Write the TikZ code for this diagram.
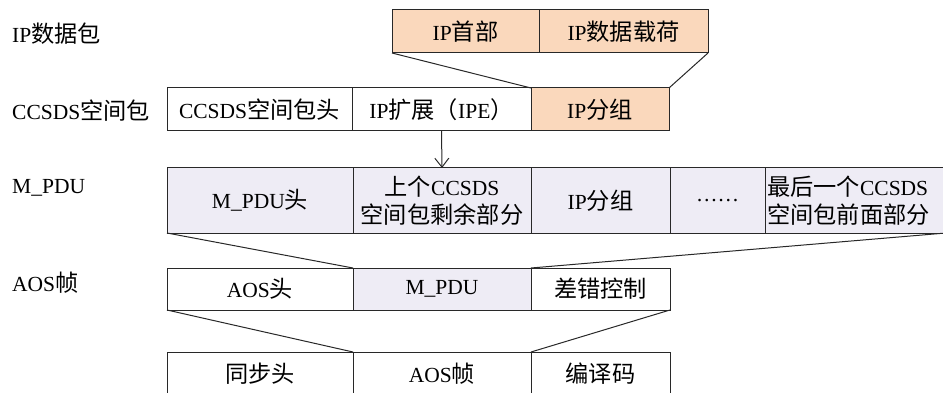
\documentclass[tikz,border=0pt]{standalone}
\usepackage{fontspec}
\setmainfont{Liberation Serif}
\newfontfamily\cjk{Noto Sans CJK SC}[Scale=1.08]
\newcommand\zh[1]{{\cjk #1}}
\usetikzlibrary{arrows.meta}
\definecolor{peach}{RGB}{250,216,188}
\definecolor{lav}{RGB}{238,236,245}
\definecolor{ln}{RGB}{40,40,40}
\begin{document}
\begin{tikzpicture}[x=1pt,y=-1pt,
  font=\fontsize{21.5}{28}\selectfont,
  cell/.style={draw=ln, line width=1pt, anchor=north west, inner sep=0pt, outer sep=0pt, align=center},
  conn/.style={draw=ln, line width=1pt},
  lbl/.style={anchor=west, inner sep=0pt}]
\useasboundingbox (0,0) rectangle (943,393);
% left labels
\node[lbl] (l1) at (12,34) {IP\zh{数据包}};
\node[lbl] (l2) at (12,111) {CCSDS\zh{空间包}};
\node[lbl] (l3) at (12,188) {M\_PDU};
\node[lbl] (l4) at (12,283) {AOS\zh{帧}};
% IP packet
\node[cell, fill=peach, minimum width=147, minimum height=43] (ipH) at (392,10) {IP\zh{首部}};
\node[cell, fill=peach, minimum width=169, minimum height=43] (ipP) at (539,10) {IP\zh{数据载荷}};
% CCSDS row
\node[cell, minimum width=185, minimum height=43] (cc1) at (167,88) {CCSDS\zh{空间包头}};
\node[cell, minimum width=179, minimum height=43] (cc2) at (352,88) {IP\zh{扩展（}IPE\zh{）}};
\node[cell, fill=peach, minimum width=138, minimum height=43] (cc3) at (531,88) {IP\zh{分组}};
% M_PDU row
\node[cell, fill=lav, minimum width=186, minimum height=65] (m1) at (167,168) {M\_PDU\zh{头}};
\node[cell, fill=lav, minimum width=178, minimum height=65] (m2) at (353,168) {\zh{上个}CCSDS\\\zh{空间包剩余部分}};
\node[cell, fill=lav, minimum width=139, minimum height=65] (m3) at (531,168) {IP\zh{分组}};
\node[cell, fill=lav, minimum width=95, minimum height=65] (m4) at (670,168) {\textellipsis\textellipsis};
\node[cell, fill=lav, minimum width=181, minimum height=65] (m5) at (765,168) {};
\node[anchor=west, inner sep=0pt, align=left] (m5t) at (767,200.5) {\zh{最后一个}CCSDS\\\zh{空间包前面部分}};
% AOS row
\node[cell, minimum width=186, minimum height=42] (a1) at (167,268) {AOS\zh{头}};
\node[cell, fill=lav, minimum width=178, minimum height=42] (a2) at (353,268) {M\_PDU};
\node[cell, minimum width=139, minimum height=42] (a3) at (531,268) {\zh{差错控制}};
% bottom row
\node[cell, minimum width=186, minimum height=44] (b1) at (167,352) {\zh{同步头}};
\node[cell, minimum width=178, minimum height=44] (b2) at (353,352) {AOS\zh{帧}};
\node[cell, minimum width=139, minimum height=44] (b3) at (531,352) {\zh{编译码}};
% connectors
\draw[conn] (ipH.south west) -- (cc3.north west);
\draw[conn] (ipP.south east) -- (cc3.north east);
\draw[conn, -{Straight Barb[length=9pt,width=14pt]}] (cc2.south) -- (m2.north);
\draw[conn] (m1.south west) -- (a2.north west);
\draw[conn] (m5.south east) -- (a2.north east);
\draw[conn] (a1.south west) -- (b2.north west);
\draw[conn] (a3.south east) -- (b2.north east);
\end{tikzpicture}
\end{document}
